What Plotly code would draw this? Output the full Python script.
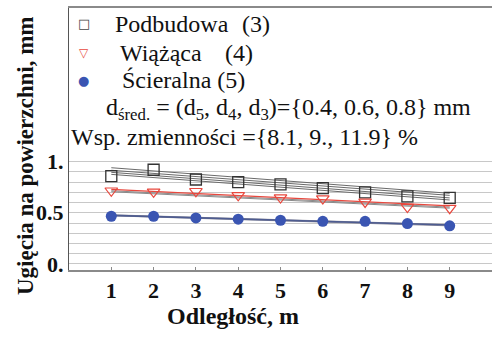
import plotly.graph_objects as go

# ---- data ----
distance = [1, 2, 3, 4, 5, 6, 7, 8, 9]
podbudowa = [0.857, 0.92, 0.825, 0.80, 0.777, 0.74, 0.70, 0.66, 0.645]
wiazaca = [0.715, 0.705, 0.71, 0.67, 0.648, 0.638, 0.606, 0.555, 0.545]
scieralna = [0.466, 0.466, 0.45, 0.437, 0.427, 0.417, 0.417, 0.395, 0.372]

fit_x = [1, 9]
podbudowa_fits = [[0.94, 0.69], [0.915, 0.67], [0.895, 0.645], [0.875, 0.625]]
wiazaca_fit = [0.728, 0.568]
wiazaca_band = [[0.715, 0.555], [0.705, 0.545]]
scieralna_fit = [0.475, 0.38]
scieralna_band = [[0.48, 0.385], [0.47, 0.372]]

x_ticks = [1, 2, 3, 4, 5, 6, 7, 8, 9]
x_grid = [2, 4, 6, 8]
y_ticks = [0, 0.5, 1]
y_ticktext = ["0.", "0.5", "1."]
y_minor = [0.1, 0.2, 0.3, 0.4, 0.6, 0.7, 0.8, 0.9]

legend_names = ["Podbudowa", "Wiążąca", "Ścieralna (5)"]
legend_nums = ["(3)", "(4)", ""]
legend_symbols = ["□", "▽", "●"]

SERIF = "Liberation Serif"
RED = "#e8483e"
BLUE = "#3a55b2"
SQ = "#444444"

fig = go.Figure()

# fit lines / bands
for f in podbudowa_fits:
    fig.add_trace(go.Scatter(x=fit_x, y=f, mode="lines", line=dict(color="#6a6a6a", width=1),
                             showlegend=False, hoverinfo="skip"))
for f in wiazaca_band:
    fig.add_trace(go.Scatter(x=fit_x, y=f, mode="lines", line=dict(color="#8a8a8a", width=1),
                             showlegend=False, hoverinfo="skip"))
fig.add_trace(go.Scatter(x=fit_x, y=wiazaca_fit, mode="lines", line=dict(color=RED, width=1.3),
                         showlegend=False, hoverinfo="skip"))
for f in scieralna_band:
    fig.add_trace(go.Scatter(x=fit_x, y=f, mode="lines", line=dict(color="#8a8a9a", width=1),
                             showlegend=False, hoverinfo="skip"))
fig.add_trace(go.Scatter(x=fit_x, y=scieralna_fit, mode="lines", line=dict(color="#4e5c90", width=1.6),
                         showlegend=False, hoverinfo="skip"))

# data markers
fig.add_trace(go.Scatter(x=distance, y=podbudowa, mode="markers", name="Podbudowa", showlegend=False,
                         marker=dict(symbol="square-open", size=11, color="#333333", line=dict(width=1.3))))
fig.add_trace(go.Scatter(x=distance, y=wiazaca, mode="markers", name="Wiążąca", showlegend=False,
                         marker=dict(symbol="triangle-down-open", size=11, color=RED, line=dict(width=1.2))))
fig.add_trace(go.Scatter(x=distance, y=scieralna, mode="markers", name="Ścieralna", showlegend=False,
                         marker=dict(symbol="circle", size=11, color=BLUE)))

# overlay axis just for vertical grid lines at even distances
fig.update_layout(
    xaxis2=dict(overlaying="x", range=[0, 10], tickvals=x_grid, showticklabels=False,
                showgrid=True, gridcolor="#bdbdbd", gridwidth=1.2, zeroline=False, ticks="",
                showline=False, side="bottom")
)

txt_font = dict(family=SERIF, size=24, color="#111111")

# legend-like labels (positions in paper fraction of the plot area)
leg_y = [0.939, 0.828, 0.725]
leg_name_x = [0.104, 0.116, 0.121]
leg_num_x = [0.404, 0.364, 0.0]
leg_sym_colors = [SQ, RED, BLUE]
leg_sym_sizes = [13, 12, 13]

annotations = []
for i in range(3):
    annotations.append(dict(text=legend_symbols[i], xref="paper", yref="paper", x=0.035, y=leg_y[i],
                            xanchor="center", yanchor="middle", showarrow=False,
                            font=dict(family="DejaVu Sans", size=leg_sym_sizes[i], color=leg_sym_colors[i])))
    annotations.append(dict(text=legend_names[i], xref="paper", yref="paper", x=leg_name_x[i], y=leg_y[i],
                            xanchor="left", yanchor="middle", showarrow=False, font=txt_font))
    if legend_nums[i]:
        annotations.append(dict(text=legend_nums[i], xref="paper", yref="paper", x=leg_num_x[i], y=leg_y[i],
                                xanchor="left", yanchor="middle", showarrow=False, font=txt_font))

annotations += [
    dict(text="d<sub>śred.</sub> = (d<sub>5</sub>, d<sub>4</sub>, d<sub>3</sub>)={0.4, 0.6, 0.8} mm",
         xref="paper", yref="paper", x=0.083, y=0.615, xanchor="left", yanchor="middle",
         showarrow=False, font=txt_font),
    dict(text="Wsp. zmienności ={8.1, 9., 11.9} %",
         xref="paper", yref="paper", x=0.0, y=0.508, xanchor="left", yanchor="middle",
         showarrow=False, font=txt_font),
    dict(text="Odległość, m", xref="paper", yref="paper", x=0.388, y=-0.176,
         xanchor="center", yanchor="middle", showarrow=False,
         font=dict(family=SERIF, size=24, color="#111111", weight="bold")),
    dict(text="Ugięcia na powierzchni, mm", xref="paper", yref="paper", x=-0.104, y=0.435,
         xanchor="center", yanchor="middle", textangle=-90, showarrow=False,
         font=dict(family=SERIF, size=23, color="#111111", weight="bold")),
]

fig.update_layout(
    width=492, height=338,
    margin=dict(l=69, r=0, t=8, b=68),
    paper_bgcolor="white", plot_bgcolor="white",
    font=dict(family=SERIF, color="#111111", size=22),
    showlegend=False,
    xaxis=dict(range=[0, 10], tickvals=x_ticks, showgrid=False, zeroline=False,
               showline=True, linecolor="#8a8a8a", linewidth=1.5, mirror=True,
               ticks="inside", ticklen=3, tickcolor="#8a8a8a",
               tickfont=dict(family=SERIF, size=22, color="#111111", weight="bold")),
    yaxis=dict(range=[-0.059, 2.50], tickvals=y_ticks, ticktext=y_ticktext,
               showgrid=True, gridcolor="#c8c8c8", gridwidth=1.3, zeroline=False,
               showline=True, linecolor="#555555", linewidth=1.3, ticks="",
               minor=dict(tickvals=y_minor, showgrid=True, gridcolor="#c8c8c8", gridwidth=1.3, ticks=""),
               tickfont=dict(family=SERIF, size=22, color="#111111", weight="bold")),
    annotations=annotations,
)

fig.write_html("out.html")
